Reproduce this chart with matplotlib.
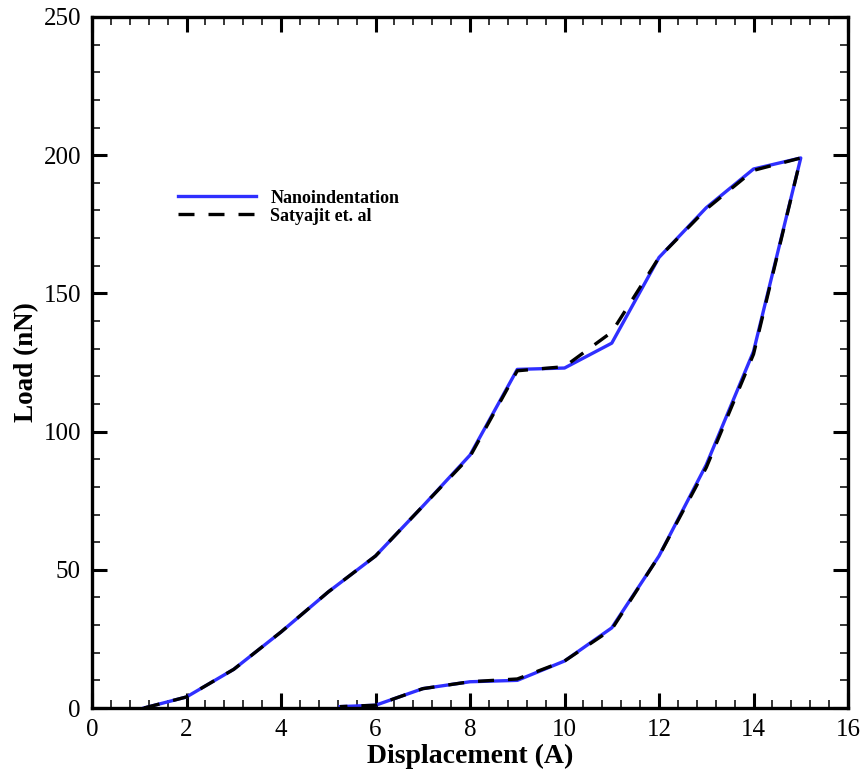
import numpy as np
import matplotlib.pyplot as plt
from matplotlib.ticker import MultipleLocator

# loading branch then unloading branch (displacement in A, load in nN)
nano_x = [1.1, 2, 3, 4, 5, 6, 7, 8, 9, 10, 11, 12, 13, 14, 15,
          14, 13, 12, 11, 10, 9, 8, 7, 6, 5.25]
nano_y = [0, 4, 14, 27.5, 42, 55, 73, 91.5, 122.5, 123, 132, 163, 181, 195, 199,
          129, 88, 55, 29, 17, 10, 9.5, 7, 1, 0.5]

sat_x = [1.1, 2, 3, 4, 5, 6, 7, 8, 9, 10, 11, 12, 13, 14, 15,
         14, 13, 12, 11, 10, 9, 8, 7, 6, 5.25]
sat_y = [0, 4, 14, 27.5, 42, 55, 73, 91, 122, 123.5, 136, 163, 180.5, 194.5, 199,
         128, 87, 55, 28.5, 17, 10.5, 9.5, 7, 1, 0.5]

plt.rcParams.update({
    "font.family": "serif",
    "font.serif": ["Liberation Serif", "DejaVu Serif"],
})

fig = plt.figure(figsize=(8.64, 7.72), dpi=100)
ax = fig.add_axes([0.1065, 0.0829, 0.875, 0.8951])

ax.plot(nano_x, nano_y, color="#2f2fff", linewidth=2.4, label="Nanoindentation")
ax.plot(sat_x, sat_y, color="black", linewidth=2.4, dashes=(4.8, 4.2),
        label="Satyajit et. al")

ax.set_xlim(0, 16)
ax.set_ylim(0, 250)
ax.xaxis.set_major_locator(MultipleLocator(2))
ax.xaxis.set_minor_locator(MultipleLocator(0.4))
ax.yaxis.set_major_locator(MultipleLocator(50))
ax.yaxis.set_minor_locator(MultipleLocator(10))

ax.tick_params(which="both", direction="in", top=True, right=True)
ax.tick_params(which="major", length=11, width=2.2, labelsize=18)
ax.tick_params(axis="x", which="major", pad=8)
ax.tick_params(axis="y", which="major", pad=8)
ax.tick_params(which="minor", length=5.5, width=1.1)
for sp in ax.spines.values():
    sp.set_linewidth(2.4)

ax.set_xlabel("Displacement (A)", fontsize=20, fontweight="bold", labelpad=2)
ax.set_ylabel("Load (nN)", fontsize=19.5, fontweight="bold", labelpad=3)

leg = ax.legend(loc="upper left", bbox_to_anchor=(0.114, 0.75), frameon=False,
                borderpad=0, borderaxespad=0,
                handlelength=4.3, handletextpad=0.8, labelspacing=0.05,
                prop={"family": "serif", "weight": "bold", "size": 13})

fig.savefig("out.png", dpi=100)
